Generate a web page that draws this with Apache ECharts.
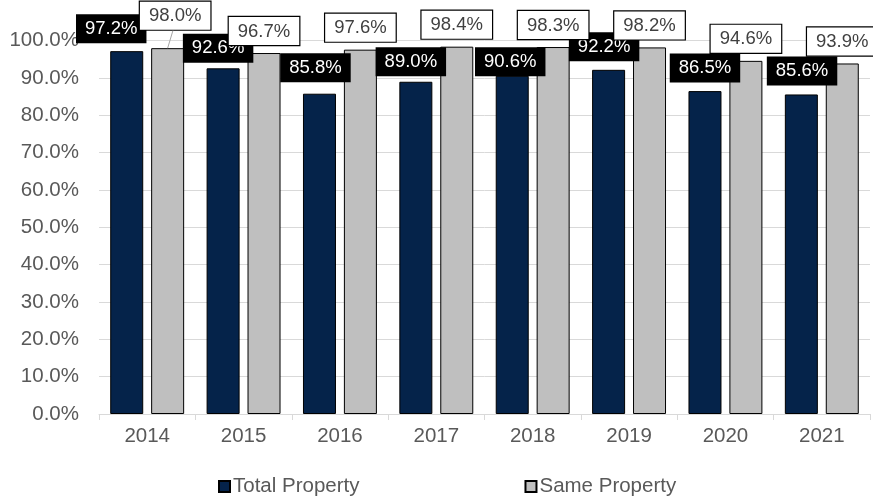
<!DOCTYPE html>
<html>
<head>
<meta charset="utf-8">
<script src="https://cdn.jsdelivr.net/npm/echarts@6/dist/echarts.min.js"></script>
<style>
html,body{margin:0;padding:0;background:#fff;}
#c{width:873px;height:499px;}
</style>
</head>
<body>
<div id="c"></div>
<script>
const categories = ['2014', '2015', '2016', '2017', '2018', '2019', '2020', '2021'];
const totalProperty = [97.2, 92.6, 85.8, 89.0, 90.6, 92.2, 86.5, 85.6];
const sameProperty = [98.0, 96.7, 97.6, 98.4, 98.3, 98.2, 94.6, 93.9];
const seriesNames = ['Total Property', 'Same Property'];

// label placement tweaks (layout only)
const totalLabelOffsets = [[-15.5, 0], [-5, 2.5], [-4, -3.5], [-5, 2.5], [-2, 8.5], [-4.5, -0.5], [0, -0.5], [0.7, -1]];
const sameLabelOffsets = [[0, 0], [0, -1], [0, 0], [0, 1], [0, 0], [0, 0], [1, 0], [-2, -1]];
const movedSameLabel = {index: 0, dx: 7.5, dy: -10.5};

const FONT = '"Liberation Sans", Arial, sans-serif';
const pct = v => Number(v).toFixed(1) + '%';

const chart = echarts.init(document.getElementById('c'), null, {renderer: 'canvas'});

const totalData = totalProperty.map((v, i) => ({
  value: v,
  label: {offset: totalLabelOffsets[i]}
}));
const sameData = sameProperty.map((v, i) => ({
  value: v,
  label: {offset: sameLabelOffsets[i]}
}));

chart.setOption({
  animation: false,
  backgroundColor: '#ffffff',
  textStyle: {fontFamily: FONT},
  grid: {left: 99, right: 3, top: 40.7, bottom: 85, containLabel: false},
  legend: {
    data: seriesNames,
    left: 213,
    top: 471,
    itemWidth: 11,
    itemHeight: 11,
    itemGap: 165,
    icon: 'rect',
    textStyle: {fontFamily: FONT, fontSize: 20.5, color: '#595959', padding: [0, 0, 0, -2]}
  },
  xAxis: {
    type: 'category',
    data: categories,
    axisLine: {lineStyle: {color: '#D9D9D9', width: 1}},
    axisTick: {show: true, length: 6, lineStyle: {color: '#D9D9D9'}},
    axisLabel: {fontFamily: FONT, fontSize: 20.5, color: '#595959', margin: 12},
    splitLine: {show: false}
  },
  yAxis: {
    type: 'value',
    min: 0,
    max: 100,
    interval: 10,
    axisLine: {show: false},
    axisTick: {show: false},
    axisLabel: {fontFamily: FONT, fontSize: 20.5, color: '#595959', margin: 20, formatter: v => pct(v)},
    splitLine: {lineStyle: {color: '#D9D9D9', width: 1}}
  },
  series: [
    {
      name: seriesNames[0],
      type: 'bar',
      data: totalData,
      barWidth: 33,
      barGap: '24%',
      itemStyle: {color: '#05234A', borderColor: '#000000', borderWidth: 1},
      label: {
        show: true,
        position: 'top',
        distance: 8,
        formatter: p => pct(p.value),
        fontFamily: FONT,
        fontSize: 18.5,
        lineHeight: 21,
        color: '#ffffff',
        backgroundColor: '#000000',
        padding: [4, 9, 4, 9]
      }
    },
    {
      name: seriesNames[1],
      type: 'bar',
      data: sameData,
      barWidth: 33,
      barGap: '24%',
      itemStyle: {color: '#BFBFBF', borderColor: '#000000', borderWidth: 1},
      label: {
        show: true,
        position: 'top',
        distance: 8,
        formatter: p => pct(p.value),
        fontFamily: FONT,
        fontSize: 18.5,
        lineHeight: 21,
        color: '#404040',
        backgroundColor: '#ffffff',
        borderColor: '#000000',
        borderWidth: 1.2,
        padding: [4, 9, 3, 9]
      }
    }
  ]
});

// Leader line for the moved "Same Property" label, anchored via the chart's own scales.
function drawLeader() {
  const i = movedSameLabel.index;
  const seriesView = chart.getModel().getSeriesByIndex(1).getData();
  const layout = seriesView.getItemLayout(i); // {x, y, width, height} of the bar
  const barTopX = layout.x + layout.width / 2;
  const barTopY = layout.y + layout.height; // height negative for upward bars
  const topY = Math.min(layout.y, layout.y + layout.height);
  chart.setOption({
    series: [{}, {
      labelLayout: function (params) {
        if (params.dataIndex === i) return {dx: movedSameLabel.dx, dy: movedSameLabel.dy};
        return {};
      }
    }],
    graphic: [{
      type: 'line',
      z: 100,
      shape: {x1: barTopX + movedSameLabel.dx * 0.7, y1: topY - 8 + movedSameLabel.dy + 1 - (sameLabelOffsets[i][1]),
              x2: barTopX, y2: topY},
      style: {stroke: '#A6A6A6', lineWidth: 1}
    }]
  });
}
drawLeader();
</script>
</body>
</html>
